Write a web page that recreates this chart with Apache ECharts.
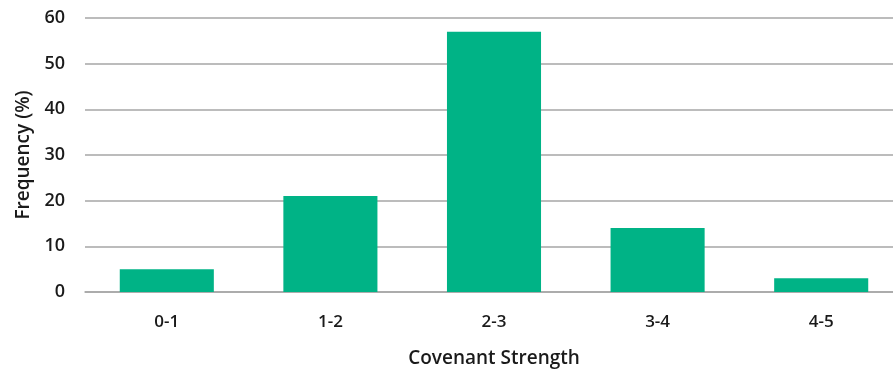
<!DOCTYPE html>
<html>
<head>
<meta charset="utf-8">
<script src="https://cdn.jsdelivr.net/npm/echarts@6/dist/echarts.min.js"></script>
<style>
  html, body { margin: 0; padding: 0; background: #ffffff; }
  #chart { width: 893px; height: 371px; }
</style>
</head>
<body>
<div id="chart"></div>
<script>
// Covenant strength distribution
const categories = ['0-1', '1-2', '2-3', '3-4', '4-5'];
const frequency = [5, 21, 57, 14, 3];
const yTicks = [0, 10, 20, 30, 40, 50, 60];

const textColor = '#1a1a1a';
const fontFamily = '"Open Sans", "Noto Sans", sans-serif';

const chart = echarts.init(document.getElementById('chart'), null, { renderer: 'canvas' });
chart.setOption({
  animation: false,
  backgroundColor: '#ffffff',
  // plot area runs slightly past the right edge of the canvas
  grid: { left: 85, top: 18, width: 818, height: 274, outerBoundsMode: 'none', containLabel: false },
  xAxis: {
    type: 'category',
    data: categories,
    name: 'Covenant Strength',
    nameLocation: 'middle',
    nameGap: 57,
    nameTextStyle: { color: textColor, fontSize: 19, fontWeight: 600, fontFamily: fontFamily },
    axisLine: { show: true, lineStyle: { color: '#a6a6a6', width: 1.5 } },
    axisTick: { show: false },
    axisLabel: { color: textColor, fontSize: 17, fontWeight: 600, fontFamily: fontFamily, margin: 22 }
  },
  yAxis: {
    type: 'value',
    min: yTicks[0],
    max: yTicks[yTicks.length - 1],
    interval: 10,
    name: 'Frequency (%)',
    nameLocation: 'middle',
    nameGap: 52,
    nameRotate: 90,
    nameTextStyle: { color: textColor, fontSize: 19, fontWeight: 600, fontFamily: fontFamily },
    axisLine: { show: false },
    axisTick: { show: false },
    axisLabel: { color: textColor, fontSize: 18, fontWeight: 600, fontFamily: fontFamily, margin: 20 },
    splitLine: { show: true, lineStyle: { color: '#a6a6a6', width: 1.5 } }
  },
  series: [{
    type: 'bar',
    data: frequency,
    barWidth: '57.5%',
    itemStyle: { color: '#00b386' }
  }]
});
</script>
</body>
</html>
